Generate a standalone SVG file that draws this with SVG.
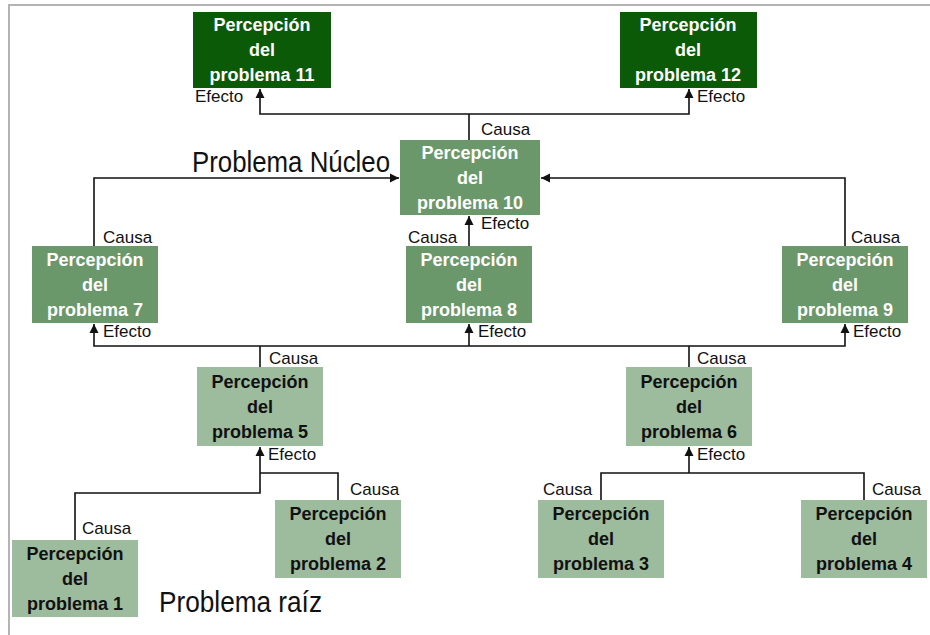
<svg xmlns="http://www.w3.org/2000/svg" width="930" height="635" viewBox="0 0 930 635">
<style>
.frame{stroke:#b4b4b4;stroke-width:2;fill:none}
.dk{fill:#0b5a08}
.md{fill:#6b986b}
.lt{fill:#9dbb9d}
.bt{font-family:"Liberation Sans",Arial,sans-serif;font-weight:bold;font-size:18px;text-anchor:middle}
.w{fill:#ffffff}
.b{fill:#111111}
.lbl{font-family:"Liberation Sans",Arial,sans-serif;font-size:17px;fill:#111111}
.big{font-family:"Liberation Sans",Arial,sans-serif;font-size:30px;fill:#111111}
.cn{stroke:#111111;stroke-width:1.6;fill:none}
</style>
<defs>
<marker id="ah" markerUnits="userSpaceOnUse" markerWidth="10" markerHeight="10" refX="9" refY="5" orient="auto">
<path d="M0,0.5 L9,5 L0,9.5 Z" fill="#111111"/>
</marker>
</defs>
<rect width="930" height="635" fill="#ffffff"/>
<path class="frame" d="M9,635 V5 H930"/>

<g id="connectors">
<path class="cn" d="M469,140 V114"/>
<path class="cn" d="M469,114 H260 V89" marker-end="url(#ah)"/>
<path class="cn" d="M469,114 H689 V89" marker-end="url(#ah)"/>
<path class="cn" d="M94,246 V178 H399" marker-end="url(#ah)"/>
<path class="cn" d="M845,246 V178 H541" marker-end="url(#ah)"/>
<path class="cn" d="M469,246 V216" marker-end="url(#ah)"/>
<path class="cn" d="M260,367 V346"/>
<path class="cn" d="M689,367 V346"/>
<path class="cn" d="M469,346 H94 V324" marker-end="url(#ah)"/>
<path class="cn" d="M469,346 V324" marker-end="url(#ah)"/>
<path class="cn" d="M469,346 H845 V324" marker-end="url(#ah)"/>
<path class="cn" d="M75,540 V493 H260 V447" marker-end="url(#ah)"/>
<path class="cn" d="M338,500 V473 H260"/>
<path class="cn" d="M601,500 V473 H864 V500"/>
<path class="cn" d="M689,473 V447" marker-end="url(#ah)"/>
</g>

<g id="labels">
<text class="lbl" x="195" y="102">Efecto</text>
<text class="lbl" x="697" y="102">Efecto</text>
<text class="lbl" x="481" y="135">Causa</text>
<text class="lbl" x="481" y="229">Efecto</text>
<text class="lbl" x="408" y="243">Causa</text>
<text class="lbl" x="103" y="243">Causa</text>
<text class="lbl" x="851" y="243">Causa</text>
<text class="lbl" x="103" y="337">Efecto</text>
<text class="lbl" x="478" y="337">Efecto</text>
<text class="lbl" x="853" y="337">Efecto</text>
<text class="lbl" x="269" y="364">Causa</text>
<text class="lbl" x="697" y="364">Causa</text>
<text class="lbl" x="268" y="460">Efecto</text>
<text class="lbl" x="697" y="460">Efecto</text>
<text class="lbl" x="350" y="495">Causa</text>
<text class="lbl" x="543" y="495">Causa</text>
<text class="lbl" x="872" y="495">Causa</text>
<text class="lbl" x="82" y="534">Causa</text>
<text class="big" x="192" y="172" textLength="198" lengthAdjust="spacingAndGlyphs">Problema Núcleo</text>
<text class="big" x="159" y="612" textLength="163" lengthAdjust="spacingAndGlyphs">Problema raíz</text>
</g>

<g id="n11">
<rect class="dk" x="193" y="12" width="138" height="76"/>
<text class="bt w"><tspan x="262" y="31">Percepción</tspan><tspan x="262" y="56">del</tspan><tspan x="262" y="81">problema 11</tspan></text>
</g>
<g id="n12">
<rect class="dk" x="620" y="12" width="137" height="76"/>
<text class="bt w"><tspan x="688" y="31">Percepción</tspan><tspan x="688" y="56">del</tspan><tspan x="688" y="81">problema 12</tspan></text>
</g>
<g id="n10">
<rect class="md" x="400" y="140" width="140" height="75"/>
<text class="bt w"><tspan x="470" y="159">Percepción</tspan><tspan x="470" y="184">del</tspan><tspan x="470" y="209">problema 10</tspan></text>
</g>
<g id="n7">
<rect class="md" x="32" y="246" width="126" height="77"/>
<text class="bt w"><tspan x="95" y="266">Percepción</tspan><tspan x="95" y="291">del</tspan><tspan x="95" y="316">problema 7</tspan></text>
</g>
<g id="n8">
<rect class="md" x="406" y="246" width="126" height="77"/>
<text class="bt w"><tspan x="469" y="266">Percepción</tspan><tspan x="469" y="291">del</tspan><tspan x="469" y="316">problema 8</tspan></text>
</g>
<g id="n9">
<rect class="md" x="782" y="246" width="126" height="77"/>
<text class="bt w"><tspan x="845" y="266">Percepción</tspan><tspan x="845" y="291">del</tspan><tspan x="845" y="316">problema 9</tspan></text>
</g>
<g id="n5">
<rect class="lt" x="197" y="367" width="126" height="79"/>
<text class="bt b"><tspan x="260" y="388">Percepción</tspan><tspan x="260" y="413">del</tspan><tspan x="260" y="438">problema 5</tspan></text>
</g>
<g id="n6">
<rect class="lt" x="626" y="367" width="126" height="79"/>
<text class="bt b"><tspan x="689" y="388">Percepción</tspan><tspan x="689" y="413">del</tspan><tspan x="689" y="438">problema 6</tspan></text>
</g>
<g id="n1">
<rect class="lt" x="12" y="540" width="126" height="77"/>
<text class="bt b"><tspan x="75" y="560">Percepción</tspan><tspan x="75" y="585">del</tspan><tspan x="75" y="610">problema 1</tspan></text>
</g>
<g id="n2">
<rect class="lt" x="275" y="500" width="126" height="78"/>
<text class="bt b"><tspan x="338" y="520">Percepción</tspan><tspan x="338" y="545">del</tspan><tspan x="338" y="570">problema 2</tspan></text>
</g>
<g id="n3">
<rect class="lt" x="538" y="500" width="126" height="78"/>
<text class="bt b"><tspan x="601" y="520">Percepción</tspan><tspan x="601" y="545">del</tspan><tspan x="601" y="570">problema 3</tspan></text>
</g>
<g id="n4">
<rect class="lt" x="801" y="500" width="126" height="78"/>
<text class="bt b"><tspan x="864" y="520">Percepción</tspan><tspan x="864" y="545">del</tspan><tspan x="864" y="570">problema 4</tspan></text>
</g>
</svg>
